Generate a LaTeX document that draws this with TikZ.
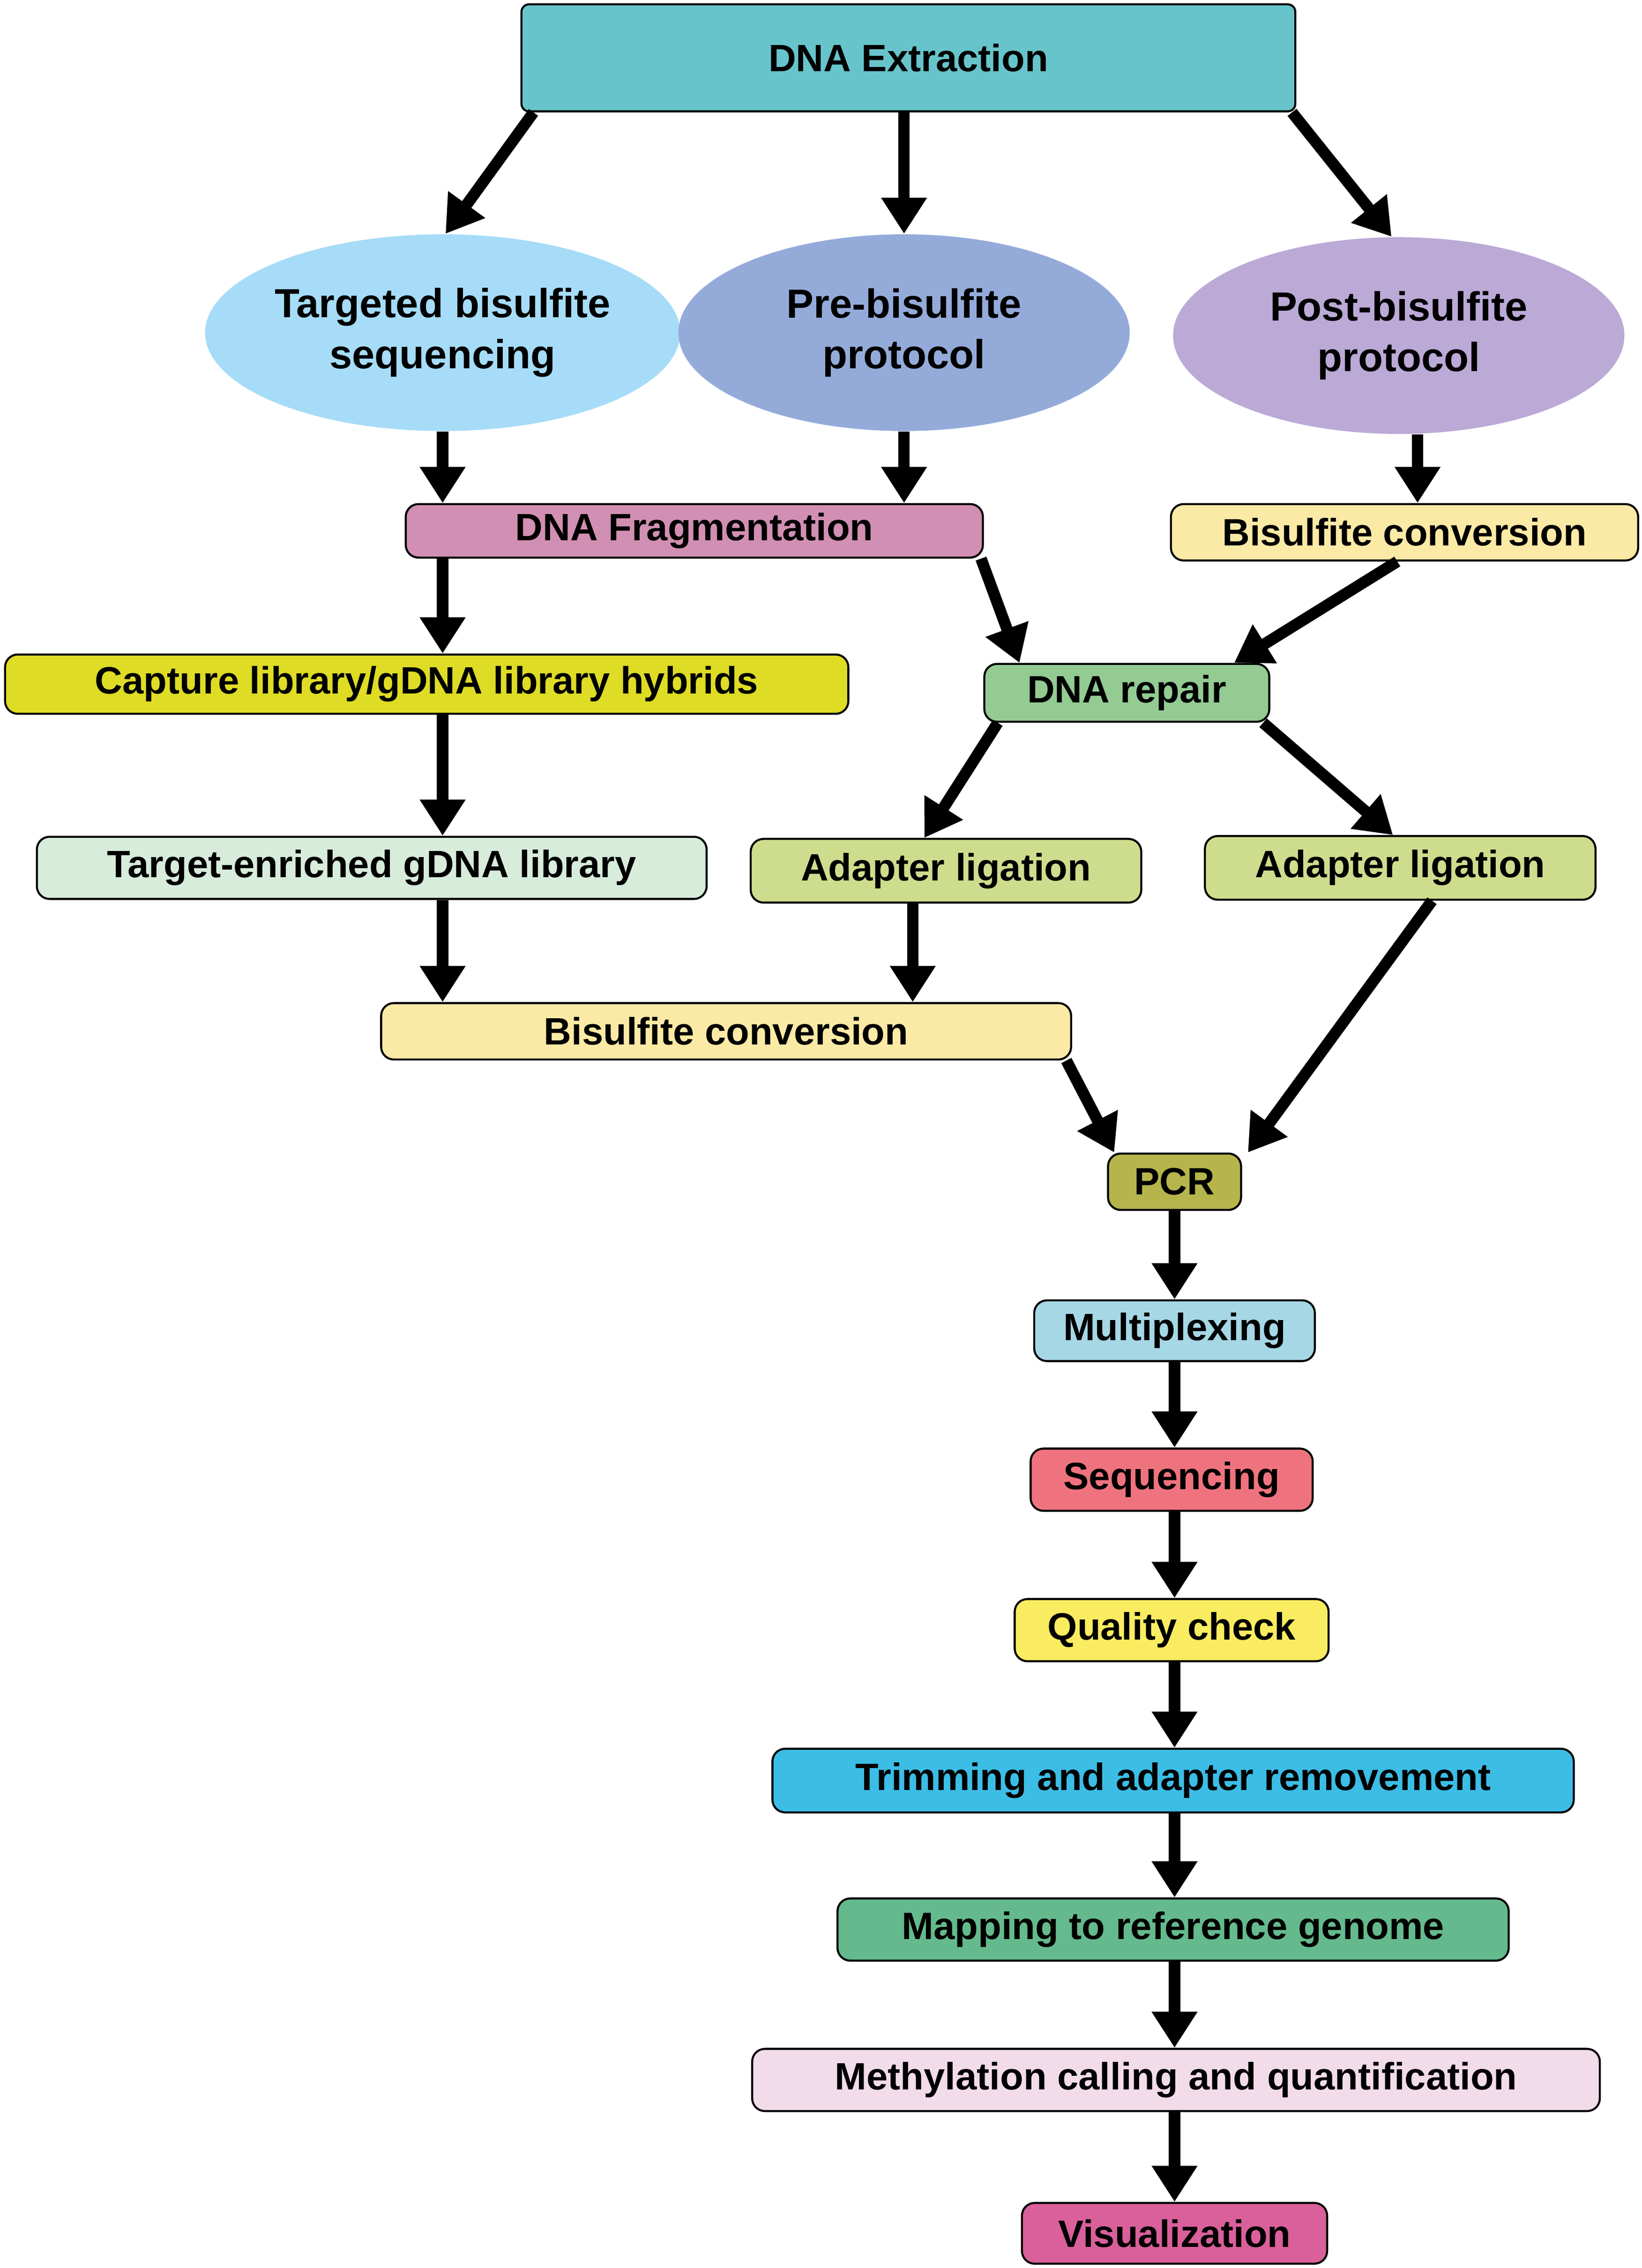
\documentclass[tikz,border=0pt]{standalone}
\usepackage{fontspec}
\setmainfont{Liberation Sans}
\usetikzlibrary{shapes.geometric, arrows.meta, positioning, calc}
\definecolor{ExtTeal}{HTML}{67C4CB}
\definecolor{TgtBlue}{HTML}{A6DCF7}
\definecolor{PreBlue}{HTML}{94ABDA}
\definecolor{PostLilac}{HTML}{BBA9D6}
\definecolor{FragPink}{HTML}{D18FB3}
\definecolor{BisYellow}{HTML}{FBEAA5}
\definecolor{CapYellow}{HTML}{DEDC24}
\definecolor{RepGreen}{HTML}{93CB93}
\definecolor{TelMint}{HTML}{D7ECDB}
\definecolor{AdaGreen}{HTML}{CEDD8D}
\definecolor{PcrOlive}{HTML}{B5B54B}
\definecolor{MuxBlue}{HTML}{A6D7E5}
\definecolor{SeqRed}{HTML}{EF737E}
\definecolor{QcYellow}{HTML}{FAEC60}
\definecolor{TrimBlue}{HTML}{3BBDE6}
\definecolor{MapGreen}{HTML}{64BA8C}
\definecolor{MethPink}{HTML}{F2DCEA}
\definecolor{VisPink}{HTML}{D9609A}

\begin{document}
\begin{tikzpicture}[
  % Prozessschritt
  step/.style={
    draw=black,
    line width=0.8pt,
    fill=#1,
    rounded corners=5pt,
    font=\fontsize{15}{18}\selectfont\bfseries,
    inner sep=0pt
  },
  % Protokoll-Ellipse
  proto/.style={
    ellipse,
    draw=none,
    fill=#1,
    font=\fontsize{16}{20}\selectfont\bfseries,
    align=center,
    minimum height=2.72cm,
    inner sep=0pt
  },
  % Dicker Pfeil
  flow/.style={
    line width=4.5pt,
    -{Triangle[length=0.5cm,width=0.6cm]}
  }
]

\useasboundingbox (0,0) rectangle (22.7,-31.36);

% =============================================================================
% OBEN
% =============================================================================
\node[step=ExtTeal, rounded corners=3pt, minimum width=10.7cm, minimum height=1.48cm] (ext) at (12.56,-0.80) {DNA Extraction};

\node[proto=TgtBlue, minimum width=6.32cm] (tgt) at (6.12,-4.60) {Targeted bisulfite\\sequencing};
\node[proto=PreBlue, minimum width=6.24cm] (pre) at (12.50,-4.60) {Pre-bisulfite\\protocol};
\node[proto=PostLilac, minimum width=6.24cm] (post) at (19.34,-4.64) {Post-bisulfite\\protocol};

% =============================================================================
% MITTE
% =============================================================================
\node[step=FragPink, minimum width=7.98cm, minimum height=0.74cm] (frag) at (9.60,-7.34) {DNA Fragmentation};
\node[step=BisYellow, minimum width=6.46cm, minimum height=0.78cm] (bc1) at (19.42,-7.36) {Bisulfite conversion};
\node[step=CapYellow, minimum width=11.66cm, minimum height=0.82cm] (cap) at (5.90,-9.46) {Capture library/gDNA library hybrids};
\node[step=RepGreen, minimum width=3.94cm, minimum height=0.80cm] (rep) at (15.58,-9.58) {DNA repair};
\node[step=TelMint, minimum width=9.26cm, minimum height=0.86cm] (tel) at (5.14,-12.00) {Target-enriched gDNA library};
\node[step=AdaGreen, minimum width=5.40cm, minimum height=0.88cm] (ad1) at (13.08,-12.04) {Adapter ligation};
\node[step=AdaGreen, minimum width=5.40cm, minimum height=0.88cm] (ad2) at (19.36,-12.00) {Adapter ligation};
\node[step=BisYellow, minimum width=9.54cm, minimum height=0.78cm] (bc2) at (10.04,-14.26) {Bisulfite conversion};

% =============================================================================
% UNTEN
% =============================================================================
\node[step=PcrOlive, minimum width=1.84cm, minimum height=0.78cm] (pcr) at (16.24,-16.34) {PCR};
\node[step=MuxBlue, minimum width=3.88cm, minimum height=0.84cm] (mux) at (16.24,-18.40) {Multiplexing};
\node[step=SeqRed, minimum width=3.90cm, minimum height=0.86cm] (seq) at (16.20,-20.46) {Sequencing};
\node[step=QcYellow, minimum width=4.34cm, minimum height=0.86cm] (qc) at (16.20,-22.54) {Quality check};
\node[step=TrimBlue, minimum width=11.08cm, minimum height=0.88cm] (trim) at (16.22,-24.62) {Trimming and adapter removement};
\node[step=MapGreen, minimum width=9.28cm, minimum height=0.86cm] (map) at (16.22,-26.68) {Mapping to reference genome};
\node[step=MethPink, minimum width=11.72cm, minimum height=0.86cm] (meth) at (16.26,-28.76) {Methylation calling and quantification};
\node[step=VisPink, minimum width=4.22cm, minimum height=0.84cm] (vis) at (16.24,-30.88) {Visualization};

% =============================================================================
% PFEILE
% =============================================================================
\draw[flow] ([xshift=0.18cm]ext.south west) -- ([xshift=0.04cm]tgt.north);
\draw[flow] (ext.south -| pre.north) -- (pre.north);
\draw[flow] ([xshift=-0.06cm]ext.south east) -- ([xshift=-0.1cm]post.north);

\draw[flow] (tgt.south) -- (tgt.south |- frag.north);
\draw[flow] (pre.south) -- (pre.south |- frag.north);
\draw[flow] ([xshift=0.26cm]post.south) -- ([xshift=0.26cm]post.south |- bc1.north);

\draw[flow] (tgt.south |- frag.south) -- (tgt.south |- cap.north);
\draw[flow] ([xshift=-0.04cm]frag.south east) -- ([xshift=0.5cm]rep.north west);
\draw[flow] ([xshift=-0.1cm]bc1.south) -- ([xshift=-0.5cm]rep.north east);

\draw[flow] (tgt.south |- cap.south) -- (tgt.south |- tel.north);
\draw[flow] ([xshift=0.2cm]rep.south west) -- ([xshift=-0.3cm]ad1.north);
\draw[flow] ([xshift=-0.1cm]rep.south east) -- ([xshift=-0.1cm]ad2.north);

\draw[flow] (tgt.south |- tel.south) -- (tgt.south |- bc2.north);
\draw[flow] ([xshift=-0.46cm]ad1.south) -- ([xshift=-0.46cm]ad1.south |- bc2.north);

\draw[flow] ([xshift=-0.08cm]bc2.south east) -- ([xshift=0.1cm]pcr.north west);
\draw[flow] ([xshift=0.44cm]ad2.south) -- ([xshift=0.08cm]pcr.north east);

\foreach \a/\b in {pcr/mux, mux/seq, seq/qc, qc/trim, trim/map, map/meth, meth/vis}
  \draw[flow] (pcr.south |- \a.south) -- (pcr.south |- \b.north);

\end{tikzpicture}
\end{document}
